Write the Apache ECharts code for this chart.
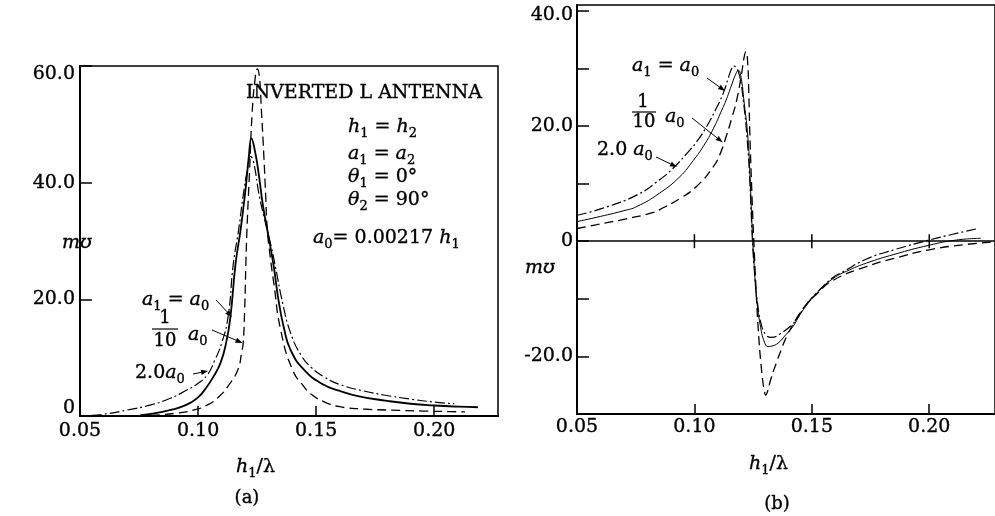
<!DOCTYPE html>
<html><head><meta charset="utf-8">
<script src="https://cdn.jsdelivr.net/npm/echarts@6/dist/echarts.min.js"></script>
<style>html,body{margin:0;padding:0;background:#fff}#c{width:995px;height:516px}</style>
</head><body><div id="c"></div>
<script>
// ---------- data: (a) susceptance peak, h1/lambda vs m-mho ----------
const leftSolid = [[0.0755,0.15],[0.08,0.35],[0.088,1.0],[0.095,1.9],[0.1,3.2],[0.103,4.6],[0.106,6.4],[0.1095,9.1],[0.112,12.8],[0.1137,17],[0.1159,26.2],[0.118,31.9],[0.12,38.5],[0.1215,44.5],[0.1226,47.6],[0.1238,46],[0.1255,42],[0.1275,36],[0.1295,31.5],[0.1321,25.5],[0.134,20],[0.1364,15],[0.1392,11.3],[0.1449,7.9],[0.153,5.4],[0.16,4.3],[0.1677,3.4],[0.18,2.6],[0.19,2.1],[0.2,1.8],[0.21,1.6],[0.2185,1.5]];
const leftDashDot = [[0.055,0.1],[0.06,0.3],[0.0698,1.0],[0.08,1.9],[0.088,3.0],[0.095,4.4],[0.1,5.6],[0.104,7.1],[0.107,9.5],[0.11,12.5],[0.1127,17],[0.1149,26],[0.1172,32],[0.119,37.5],[0.121,42.5],[0.1222,44.5],[0.1235,43.5],[0.1258,38],[0.128,34],[0.131,29],[0.1328,25.5],[0.136,19],[0.1392,14.2],[0.1435,10.5],[0.148,8.3],[0.1534,6.7],[0.16,5.4],[0.17,4.3],[0.1787,3.6],[0.19,2.9],[0.2021,2.3],[0.2085,2.1]];
const leftDashed = [[0.08,0.1],[0.084,0.2],[0.09,0.45],[0.098,1.0],[0.104,1.9],[0.1088,3.3],[0.113,5.3],[0.1168,7.9],[0.1185,11],[0.1191,12.5],[0.1197,18],[0.1203,27],[0.1208,33],[0.1218,42],[0.1229,52],[0.1242,58],[0.1251,59.5],[0.126,58],[0.1268,52.5],[0.1278,45],[0.1286,38],[0.1293,32],[0.1305,27.5],[0.1321,22.7],[0.135,14.7],[0.14,7.9],[0.1449,5.0],[0.1477,3.8],[0.153,2.5],[0.16,1.6],[0.17,1.2],[0.1817,1.0],[0.195,0.85],[0.207,0.75],[0.213,0.7]];
// ---------- data: (b) ----------
const rightSolid = [[0.05,3.4],[0.06,4.3],[0.07,5.3],[0.0754,6.0],[0.085,8.3],[0.0938,11.2],[0.0995,14.0],[0.104,16.6],[0.108,19.5],[0.1115,22.6],[0.1137,24.7],[0.116,27.3],[0.1176,29.0],[0.1187,29.7],[0.1197,28.8],[0.1212,24],[0.1228,17.9],[0.1238,10],[0.1246,2],[0.1255,-4.5],[0.1265,-10],[0.128,-14.5],[0.1298,-17.5],[0.1314,-18.3],[0.133,-18.2],[0.1356,-17.7],[0.139,-16.2],[0.142,-14.8],[0.1449,-12.8],[0.1485,-10.7],[0.152,-9.0],[0.159,-6.5],[0.166,-5.0],[0.1733,-3.8],[0.185,-2.3],[0.2,-0.7],[0.2116,0.2],[0.222,0.5]];
const rightDashDot = [[0.05,4.5],[0.06,5.6],[0.0754,8.0],[0.0853,10.7],[0.091,12.7],[0.0967,15.2],[0.1012,17.4],[0.1052,19.9],[0.109,22.8],[0.1123,25.7],[0.1145,28.4],[0.1158,29.9],[0.1168,30.4],[0.118,30.0],[0.1193,28.6],[0.1208,24.5],[0.1225,17.5],[0.1237,9.5],[0.1246,1],[0.1256,-5.5],[0.1268,-10.5],[0.1285,-14.5],[0.1305,-16.3],[0.1328,-16.7],[0.1364,-16.1],[0.142,-14.3],[0.1449,-12.6],[0.1485,-10.6],[0.152,-9.0],[0.159,-6.3],[0.1633,-5.3],[0.1733,-3.1],[0.185,-1.5],[0.2,0.2],[0.21,1.2],[0.2208,2.2]];
const rightDashed = [[0.05,2.2],[0.06,3.0],[0.07,3.8],[0.0825,5.0],[0.0867,5.8],[0.0938,7.4],[0.1009,9.5],[0.108,12.9],[0.111,15.2],[0.1137,18.4],[0.116,21.5],[0.118,24.5],[0.1201,29.1],[0.1212,32],[0.1219,32.9],[0.1226,31.5],[0.1232,25],[0.1236,18.7],[0.1245,8],[0.1253,0],[0.1262,-8],[0.1272,-15.4],[0.1286,-22.4],[0.1297,-25.8],[0.1304,-26.7],[0.1312,-26],[0.1325,-24],[0.135,-21],[0.137,-18.8],[0.1392,-16.6],[0.1435,-13.4],[0.148,-10.8],[0.152,-9.2],[0.159,-6.8],[0.1733,-4.4],[0.185,-3.0],[0.2,-1.5],[0.215,-0.6],[0.228,-0.1]];
const zeroLineTicks = [0.10, 0.15, 0.20];

const SERIF = "'DejaVu Serif', 'DejaVu Sans', serif";
const TB = {stroke:'#000',lineWidth:0.35};
const R = {
  i:Object.assign({fontFamily:SERIF,fontStyle:'italic',fontSize:19,lineHeight:26,verticalAlign:'middle',fill:'#000'},TB),
  n:Object.assign({fontFamily:SERIF,fontSize:19,lineHeight:26,verticalAlign:'middle',fill:'#000'},TB),
  s:Object.assign({fontFamily:SERIF,fontSize:13,lineHeight:13,verticalAlign:'bottom',fill:'#000'},TB)
};
function T(x,y,text,align){
  return {type:'text',x:x,y:y,z:10,silent:true,style:Object.assign({text:text,rich:R,align:align||'left',verticalAlign:'middle',fill:'#000',fontFamily:SERIF,fontSize:19},TB)};
}
function P(x,y,text,size){
  return {type:'text',x:x,y:y,z:10,silent:true,style:Object.assign({text:text,align:'center',verticalAlign:'middle',fill:'#000',fontFamily:SERIF,fontSize:size||18},TB)};
}
function arrow(x1,y1,x2,y2){
  const a=Math.atan2(y2-y1,x2-x1), L=7, W=2.6;
  const bx=x2-L*Math.cos(a), by=y2-L*Math.sin(a), px=-Math.sin(a), py=Math.cos(a);
  return [
    {type:'line',z:10,silent:true,shape:{x1:x1,y1:y1,x2:bx,y2:by},style:{stroke:'#000',lineWidth:1}},
    {type:'polygon',z:10,silent:true,shape:{points:[[x2,y2],[bx+px*W,by+py*W],[bx-px*W,by-py*W]]},style:{fill:'#000'}}
  ];
}
function bar(x1,x2,y){return {type:'line',z:10,silent:true,shape:{x1:x1,y1:y,x2:x2,y2:y},style:{stroke:'#000',lineWidth:1.2}};}

const graphics = [
  P(364,93,'INVERTED L ANTENNA',19),
  T(348,127,'{i|h}{s|1}{n| = }{i|h}{s|2}'),
  T(348,154,'{i|a}{s|1}{n| = }{i|a}{s|2}'),
  T(348,177,'{i|θ}{s|1}{n| = 0°}'),
  T(348,200,'{i|θ}{s|2}{n| = 90°}'),
  T(313,238,'{i|a}{s|0}{n|= 0.00217 }{i|h}{s|1}'),
  T(62,243,'{i|mʊ}'),
  T(142,300,'{i|a}{s|1}{n| = }{i|a}{s|0}'),
  P(165,318,'1'), bar(152,178,329), P(165,341,'10'),
  T(188,335,'{i|a}{s|0}'),
  T(135,373,'{n|2.0}{i|a}{s|0}'),
  T(236,467,'{i|h}{s|1}{n|/λ}'),
  P(247,498,'(a)',18),
  // right panel
  T(525,268,'{i|mʊ}'),
  T(632,66,'{i|a}{s|1}{n| = }{i|a}{s|0}'),
  P(643,102,'1'), bar(632,656,112), P(644,122,'10'),
  T(665,117,'{i|a}{s|0}'),
  T(597,150,'{n|2.0 }{i|a}{s|0}'),
  T(749,464,'{i|h}{s|1}{n|/λ}'),
  P(777,504,'(b)',18)
].concat(arrow(216,300,232,317), arrow(212,330,242.5,343), arrow(193,374,208,371),
         arrow(707,78,725,91), arrow(692,118,722.7,142.3), arrow(656,157,677,167));

const axisLineStyle = {color:'#000',width:2};
const LB = {textBorderColor:'#000',textBorderWidth:0.35};
const labelRich = {
  lo:Object.assign({fontFamily:SERIF,fontSize:19,color:'#000',padding:[0,0,16,0]},LB),
  hi:Object.assign({fontFamily:SERIF,fontSize:19,color:'#000',padding:[16,0,0,0]},LB),
  hi2:Object.assign({fontFamily:SERIF,fontSize:19,color:'#000',padding:[8,0,0,0]},LB)
};
function xAx(gi,max,margin){
  return {gridIndex:gi,type:'value',min:0.05,max:max,interval:0.05,
    axisLine:{onZero:false,lineStyle:axisLineStyle},
    axisTick:{inside:true,length:10,lineStyle:{color:'#000',width:1.5}},
    axisLabel:Object.assign({color:'#000',fontFamily:SERIF,fontSize:19,margin:margin,showMaxLabel:false,formatter:v=>v.toFixed(2)},LB),
    splitLine:{show:false}};
}
function S(data,xi,type,width){
  return {type:'line',xAxisIndex:xi,yAxisIndex:xi,data:data,showSymbol:false,smooth:0.5,silent:true,
    lineStyle:{color:'#000',width:width,type:type},z:3};
}
const chart = echarts.init(document.getElementById('c'),null,{renderer:'canvas'});
chart.setOption({
  animation:false,
  backgroundColor:'#fff',
  grid:[
    {left:80,top:66,width:418,height:350,show:true,borderColor:'#000',borderWidth:1.5},
    {left:577,top:5,right:0,height:409,show:true,borderColor:'#000',borderWidth:1.5}
  ],
  xAxis:[xAx(0,0.227,6), xAx(1,0.228,4)],
  yAxis:[
    {gridIndex:0,type:'value',min:0,max:60,interval:20,
     axisLine:{lineStyle:axisLineStyle},
     axisTick:{inside:true,length:12,lineStyle:{color:'#000',width:1.5}},
     axisLabel:Object.assign({color:'#000',fontFamily:SERIF,fontSize:19,margin:5,rich:labelRich,
       formatter:v=>v===0?'{lo|0}':(v===60?'{hi|60.0}':v.toFixed(1))},LB),
     splitLine:{show:false}},
    {gridIndex:1,type:'value',min:-30,max:41,interval:10,
     axisLine:{lineStyle:axisLineStyle},
     axisTick:{inside:true,length:12,lineStyle:{color:'#000',width:1.5}},
     axisLabel:Object.assign({color:'#000',fontFamily:SERIF,fontSize:19,margin:4,showMaxLabel:false,rich:labelRich,
       formatter:v=>v===0?'0':(v===40?'{hi2|40.0}':(Math.abs(v)===20?v.toFixed(1):''))},LB),
     splitLine:{show:false}}
  ],
  series:[
    S(leftSolid,0,'solid',1.8),
    S(leftDashDot,0,[10,3,2,3],1.2),
    S(leftDashed,0,[9,5],1.3),
    Object.assign(S(rightSolid,1,'solid',1.0),{markLine:{silent:true,symbol:'none',label:{show:false},
      lineStyle:{color:'#000',type:'solid',width:1.5},data:[{yAxis:0}]}}),
    S(rightDashDot,1,[10,3,2,3],1.2),
    S(rightDashed,1,[9,5],1.3),
    {type:'custom',xAxisIndex:1,yAxisIndex:1,silent:true,z:4,data:zeroLineTicks.map(v=>[v,0]),
     renderItem:function(p,api){const c=api.coord([api.value(0),api.value(1)]);
       return {type:'line',shape:{x1:c[0],y1:c[1]-7,x2:c[0],y2:c[1]+7},style:{stroke:'#000',lineWidth:1.5}};}}
  ],
  graphic:graphics
});
</script></body></html>
